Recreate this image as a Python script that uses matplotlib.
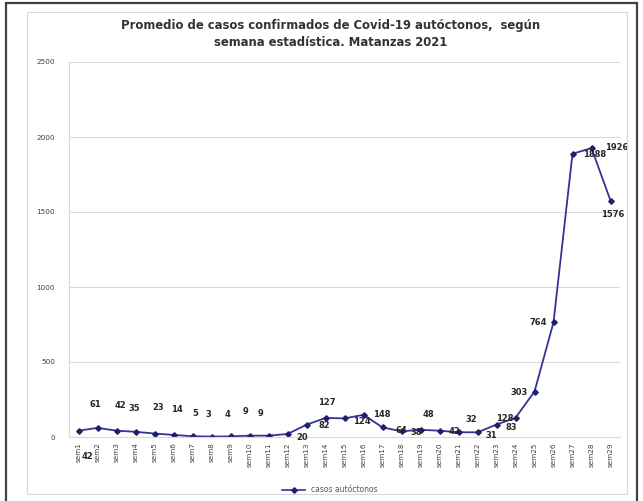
import matplotlib.pyplot as plt
from matplotlib.patches import Rectangle
from matplotlib.lines import Line2D

semanas = [f'sem{i}' for i in range(1, 30)]
casos = [42, 61, 42, 35, 23, 14, 5, 3, 4, 9, 9, 20, 82, 127, 124, 148,
         64, 38, 48, 42, 32, 31, 83, 128, 303, 764, 1888, 1926, 1576]

# label offsets in pixels (dx, dy) from each point
offsets = [(9, -26), (-2, 23), (4, 25), (-1, 23), (4, 26), (3, 25), (3, 23),
           (-3, 22), (-3, 22), (-4, 24), (-8, 22), (15, -3), (18, -1),
           (1, 15), (17, -3), (18, 0), (19, -3), (15, -1), (8, 15), (15, -1),
           (13, 13), (14, -3), (15, -3), (-11, -1), (-15, -1), (-15, 0),
           (22, -1), (25, 1), (2, -14)]

W, H = 643, 501
fig = plt.figure(figsize=(W / 100, H / 100), dpi=100)

# outer dark frame and light chart border
fig.add_artist(Rectangle((6 / W, -0.02), 631 / W, 1 - 3 / H + 0.02,
                         transform=fig.transFigure, fill=False,
                         edgecolor='#404040', linewidth=1.6))
fig.add_artist(Rectangle((27 / W, 7 / H), 600 / W, 482 / H,
                         transform=fig.transFigure, fill=False,
                         edgecolor='#d9d9d9', linewidth=0.8))

ax = fig.add_axes([69 / W, 1 - 437 / H, 551 / W, 375 / H])
x = list(range(1, len(casos) + 1))
ax.plot(x, casos, color='#343496', linewidth=1.3, marker='D',
        markersize=2.8, markerfacecolor='#1f1f70', markeredgecolor='#1f1f70',
        label='casos autóctonos')

for xi, v, (dx, dy) in zip(x, casos, offsets):
    ax.annotate(str(v), (xi, v), xytext=(dx * 0.72, dy * 0.72),
                textcoords='offset points', ha='center', va='center',
                fontsize=6, fontweight='bold', color='#262626')

ax.set_xlim(0.5, len(casos) + 0.5)
ax.set_ylim(0, 2500)
ax.set_yticks(range(0, 2501, 500))
ax.set_xticks(x)
ax.set_xticklabels(semanas, rotation=90, fontsize=5.2, color='#404040')
ax.tick_params(axis='y', labelsize=5.2, colors='#404040', length=0, pad=10)
ax.tick_params(axis='x', length=0, pad=4)
ax.grid(axis='y', color='#d9d9d9', linewidth=0.8)
ax.set_axisbelow(True)
for s in ['top', 'right']:
    ax.spines[s].set_visible(False)
ax.spines['left'].set_color('#d9d9d9')
ax.spines['bottom'].set_color('#d9d9d9')

fig.text(0.514, 1 - 26 / H, 'Promedio de casos confirmados de Covid-19 autóctonos,  según',
         ha='center', va='center', fontsize=8.4, fontweight='bold', color='#333333')
fig.text(0.514, 1 - 43 / H, 'semana estadística. Matanzas 2021',
         ha='center', va='center', fontsize=8.4, fontweight='bold', color='#333333')

handle = Line2D([], [], color='#343496', linewidth=1.2, marker='D',
                markersize=2.8, markerfacecolor='#1f1f70', markeredgecolor='#1f1f70')
fig.legend([handle], ['casos autóctonos'], loc='center',
           bbox_to_anchor=(330 / W, 1 - 490 / H), frameon=False,
           fontsize=5.5, labelcolor='#595959', handlelength=3)

fig.savefig('out.png', dpi=100)
